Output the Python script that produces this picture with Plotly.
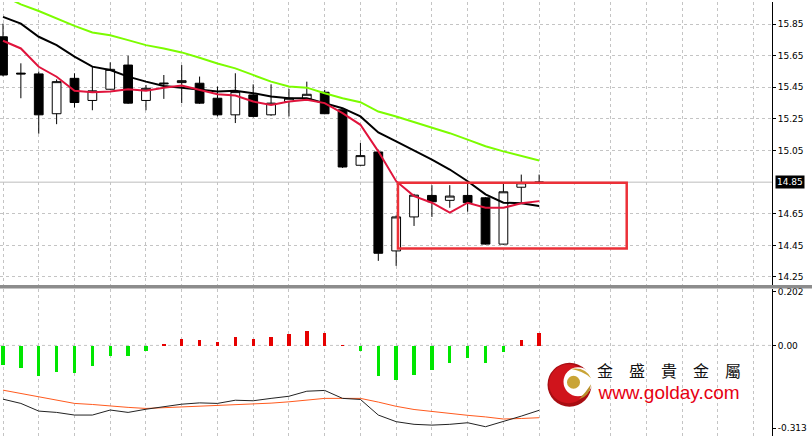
import plotly.graph_objects as go

# ---------------- data ----------------
idx = list(range(31))
opens = [15.77, 15.54, 15.535, 15.283, 15.507, 15.367, 15.438, 15.591, 15.367, 15.472,
         15.48, 15.476, 15.381, 15.276, 15.402, 15.276, 15.36, 15.377, 15.419, 15.308,
         14.957, 15.041, 14.415, 14.63, 14.766, 14.735, 14.766, 14.751, 14.458, 14.818, 14.846]
highs = [15.853, 15.602, 15.55, 15.50, 15.539, 15.581, 15.608, 15.65, 15.465, 15.528,
         15.591, 15.518, 15.455, 15.539, 15.469, 15.469, 15.44, 15.486, 15.434, 15.31,
         15.098, 15.056, 14.64, 14.776, 14.831, 14.831, 14.856, 14.755, 14.846, 14.898, 14.898]
lows = [15.52, 15.381, 15.157, 15.217, 15.322, 15.305, 15.435, 15.345, 15.305, 15.377,
        15.35, 15.345, 15.266, 15.224, 15.26, 15.27, 15.266, 15.375, 15.28, 14.94,
        14.955, 14.352, 14.32, 14.573, 14.63, 14.688, 14.663, 14.455, 14.455, 14.72, 14.84]
closes = [15.528, 15.535, 15.276, 15.486, 15.354, 15.428, 15.564, 15.35, 15.444, 15.476,
          15.492, 15.35, 15.276, 15.423, 15.266, 15.35, 15.381, 15.406, 15.283, 14.946,
          15.018, 14.40, 14.63, 14.768, 14.726, 14.762, 14.72, 14.458, 14.789, 14.846, 14.85]

ma_red = [15.745, 15.696, 15.58, 15.517, 15.428, 15.419, 15.423, 15.438, 15.428, 15.448,
          15.461, 15.434, 15.406, 15.398, 15.36, 15.338, 15.36, 15.371, 15.35, 15.287,
          15.213, 15.045, 14.856, 14.762, 14.72, 14.657, 14.72, 14.688, 14.688, 14.716, 14.73]
ma_black = [15.896, 15.853, 15.77, 15.717, 15.644, 15.581, 15.56, 15.518, 15.486, 15.459,
            15.448, 15.434, 15.423, 15.428, 15.413, 15.392, 15.381, 15.381, 15.35, 15.318,
            15.266, 15.165, 15.108, 15.052, 14.993, 14.93, 14.856, 14.773, 14.72, 14.716, 14.699]
ma_green = [16.03, 15.975, 15.933, 15.885, 15.839, 15.797, 15.78, 15.749, 15.717, 15.696,
            15.671, 15.637, 15.601, 15.57, 15.528, 15.486, 15.455, 15.448, 15.413, 15.381,
            15.356, 15.297, 15.265, 15.23, 15.196, 15.16, 15.119, 15.077, 15.045, 15.018, 14.987]

hist = [-0.073, -0.085, -0.115, -0.100, -0.103, -0.078, -0.038, -0.038, -0.018, 0.006,
        0.026, 0.021, 0.014, 0.033, 0.025, 0.033, 0.046, 0.056, 0.049, 0.001,
        -0.021, -0.113, -0.128, -0.109, -0.091, -0.066, -0.048, -0.066, -0.025, 0.021, 0.049]
macd_black = [-0.203, -0.219, -0.248, -0.253, -0.263, -0.263, -0.244, -0.253, -0.241, -0.232,
              -0.222, -0.217, -0.219, -0.207, -0.209, -0.200, -0.192, -0.173, -0.170, -0.200,
              -0.204, -0.263, -0.288, -0.298, -0.301, -0.298, -0.292, -0.307, -0.288, -0.267, -0.245]
macd_orange = [-0.169, -0.182, -0.194, -0.207, -0.219, -0.223, -0.229, -0.234, -0.238, -0.235,
               -0.232, -0.230, -0.228, -0.225, -0.222, -0.218, -0.213, -0.207, -0.200, -0.200,
               -0.200, -0.214, -0.230, -0.242, -0.250, -0.258, -0.264, -0.270, -0.278, -0.276, -0.273]

price_ticks = [15.85, 15.65, 15.45, 15.25, 15.05, 14.65, 14.45, 14.25]
price_labels = ["15.85", "15.65", "15.45", "15.25", "15.05", "14.65", "14.45", "14.25"]
osc_ticks = [0.202, 0.0, -0.313]
osc_labels = ["0.202", "0.00", "-0.313"]
bid_price = 14.85
bid_label = "14.85"
box_x = [22.1, 34.9]
box_y = [14.43, 14.846]
logo_chars = ["金", "盛", "貴", "金", "屬"]
logo_url = "www.golday.com"

# ---------------- figure ----------------
W, H = 812, 436
PW = 772  # plot width in px

def px(x):
    return x / PW

def py(y):
    return 1 - y / H

GRID = "#c4c4c4"
fig = go.Figure()

fig.add_trace(go.Candlestick(
    x=idx, open=opens, high=highs, low=lows, close=closes,
    increasing=dict(line=dict(color="black", width=1), fillcolor="white"),
    decreasing=dict(line=dict(color="black", width=1), fillcolor="black"),
    xaxis="x", yaxis="y", showlegend=False, hoverinfo="skip"))

fig.add_trace(go.Scatter(x=idx, y=ma_green, mode="lines", line=dict(color="#7cfc00", width=2),
                         xaxis="x", yaxis="y", showlegend=False, hoverinfo="skip"))
fig.add_trace(go.Scatter(x=idx, y=ma_black, mode="lines", line=dict(color="black", width=2),
                         xaxis="x", yaxis="y", showlegend=False, hoverinfo="skip"))
fig.add_trace(go.Scatter(x=idx, y=ma_red, mode="lines", line=dict(color="#e0143c", width=2),
                         xaxis="x", yaxis="y", showlegend=False, hoverinfo="skip"))

bar_colors = ["#e60000" if v > 0 else "#00e600" for v in hist]
fig.add_trace(go.Bar(x=idx, y=hist, width=0.19, marker=dict(color=bar_colors, line=dict(width=0)),
                     xaxis="x2", yaxis="y2", showlegend=False, hoverinfo="skip"))
fig.add_trace(go.Scatter(x=idx, y=macd_orange, mode="lines", line=dict(color="#ff5a1e", width=1),
                         xaxis="x2", yaxis="y2", showlegend=False, hoverinfo="skip"))
fig.add_trace(go.Scatter(x=idx, y=macd_black, mode="lines", line=dict(color="#222222", width=1),
                         xaxis="x2", yaxis="y2", showlegend=False, hoverinfo="skip"))

xr = [-0.168, 43.03]
common_x = dict(range=xr, showgrid=True, gridcolor=GRID, griddash="3px,3px", gridwidth=1,
                tick0=0, dtick=2, showticklabels=False, ticks="", zeroline=False, showline=False)
tickfont = dict(family="DejaVu Sans", size=9, color="black")

fig.update_layout(
    width=W, height=H, margin=dict(l=0, r=W - PW, t=0, b=0),
    paper_bgcolor="white", plot_bgcolor="white", showlegend=False,
    xaxis=dict(domain=[0, 1], anchor="y", rangeslider=dict(visible=False), **common_x),
    xaxis2=dict(domain=[0, 1], anchor="y2", matches="x", **common_x),
    yaxis=dict(domain=[1 - 284 / H, 1], range=[14.2012, 15.990], side="right",
               tickvals=price_ticks, ticktext=price_labels, showgrid=True, gridcolor=GRID,
               griddash="3px,3px", zeroline=False, showline=True, linecolor="black",
               linewidth=1, ticks="outside", ticklen=3, tickcolor="black", tickfont=tickfont),
    yaxis2=dict(domain=[0, 1 - 288 / H], range=[-0.3421, 0.2143], side="right",
                tickvals=osc_ticks, ticktext=osc_labels, showgrid=False, zeroline=False,
                showline=True, linecolor="black", linewidth=1, ticks="outside", ticklen=3,
                tickcolor="black", tickfont=tickfont),
    bargap=0,
)

shapes = []
shapes.append(dict(type="line", xref="paper", yref="y", x0=0, x1=1, y0=bid_price, y1=bid_price,
                   line=dict(color="#bdbdbd", width=1), layer="between"))
shapes.append(dict(type="line", xref="paper", yref="y2", x0=0, x1=1, y0=0, y1=0,
                   line=dict(color=GRID, width=1, dash="3px,3px"), layer="between"))
shapes.append(dict(type="rect", xref="paper", yref="paper", x0=0, x1=W / PW,
                   y0=py(287.7), y1=py(284.3), fillcolor="#8c8c8c", line=dict(width=0), layer="above"))
shapes.append(dict(type="rect", xref="x", yref="y", x0=box_x[0], x1=box_x[1], y0=box_y[0], y1=box_y[1],
                   line=dict(color="#ec3038", width=2.5), fillcolor="rgba(0,0,0,0)", layer="above"))

def circ(cx, cy, r, color):
    return dict(type="circle", xref="paper", yref="paper", x0=px(cx - r), x1=px(cx + r),
                y0=py(cy + r), y1=py(cy - r), fillcolor=color, line=dict(width=0), layer="above")

shapes.append(circ(569.5, 384.5, 22, "#a80d12"))
shapes.append(circ(568.5, 383.5, 19.5, "#d0141c"))
shapes.append(circ(578, 381.5, 14.5, "white"))
shapes.append(circ(573.5, 382, 6.5, "#c9a436"))

def path_pts(pts):
    s = "M {} {}".format(px(pts[0][0]), py(pts[0][1]))
    i = 1
    while i + 1 < len(pts):
        s += " Q {} {} {} {}".format(px(pts[i][0]), py(pts[i][1]), px(pts[i + 1][0]), py(pts[i + 1][1]))
        i += 2
    return s + " Z"

shapes.append(dict(type="path", xref="paper", yref="paper",
                   path=path_pts([(570, 368.5), (586, 366), (591, 378), (584, 371), (570, 368.5)]),
                   fillcolor="#c9a436", line=dict(width=0), layer="above"))
shapes.append(dict(type="path", xref="paper", yref="paper",
                   path=path_pts([(591, 384), (590, 396), (579, 399), (586, 392), (591, 384)]),
                   fillcolor="#b8902a", line=dict(width=0), layer="above"))

fig.update_layout(shapes=shapes)

ann = []
ann.append(dict(x=1, xref="paper", y=bid_price, yref="y", xanchor="left", yanchor="middle", xshift=3,
                text=bid_label, showarrow=False, bgcolor="black", borderpad=1,
                font=dict(family="DejaVu Sans", size=9, color="white")))
gap = "\u2003"
chars_line = gap.join(logo_chars)
logo_text = ("<span style='font-family:\"Noto Sans CJK TC\";font-size:16px;color:#111111'>" + chars_line +
             "</span><br><span style='font-family:\"Liberation Sans\";font-size:19px;color:#e60012'>" +
             logo_url + "</span>")
ann.append(dict(x=px(669), xref="paper", y=py(380), yref="paper", xanchor="center", yanchor="middle",
                text=logo_text, showarrow=False,
                font=dict(family="Liberation Sans", size=17, color="#e60012")))
fig.update_layout(annotations=ann)

fig.write_html("out.html", config={"displayModeBar": False},
               post_script="document.body.style.margin='0';document.body.style.overflow='hidden';")
